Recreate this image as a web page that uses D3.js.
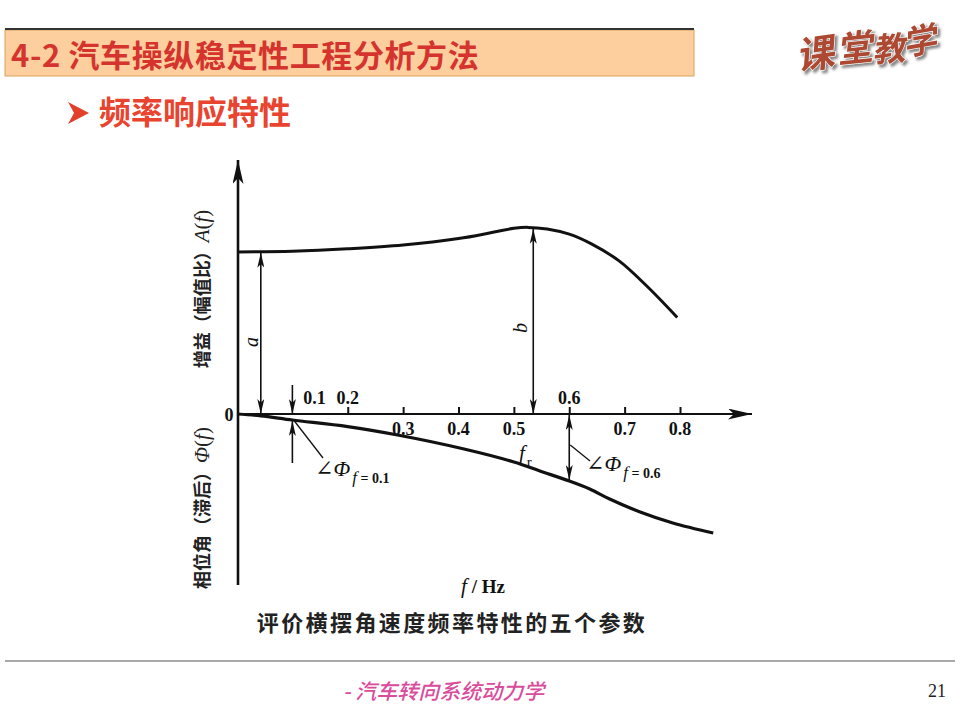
<!DOCTYPE html>
<html>
<head>
<meta charset="utf-8">
<script src="https://cdn.jsdelivr.net/npm/d3@7"></script>
<style>
  html, body { margin: 0; padding: 0; background: #fff; }
  svg { display: block; }
  .cjk { font-family: "Noto Sans CJK SC", "Noto Sans", sans-serif; }
  .serif { font-family: "Liberation Serif", "DejaVu Serif", serif; }
</style>
</head>
<body>
<div id="chart"></div>
<script>
// gain (amplitude ratio) curve
const gainFreq = [0, 0.1, 0.2, 0.3, 0.4, 0.46, 0.5, 0.525, 0.56, 0.6, 0.64, 0.69, 0.74, 0.795];
const gainValues = [1.0, 1.005, 1.02, 1.043, 1.083, 1.12, 1.146, 1.152, 1.142, 1.11, 1.05, 0.945, 0.79, 0.596];

// phase lag curve (degrees, estimated)
const phaseFreq = [0, 0.043, 0.1, 0.2, 0.29, 0.41, 0.5, 0.547, 0.6, 0.637, 0.673, 0.728, 0.787, 0.86];
const phaseValues = [0, -0.9, -3, -6.3, -10.5, -17.5, -24, -28.5, -33.5, -37.5, -42.5, -49, -54.5, -59.5];

const tickValues = [0.2, 0.3, 0.4, 0.5, 0.6, 0.7, 0.8];
const labelsAbove = [0.1, 0.2, 0.6];
const labelsBelow = [0.3, 0.4, 0.5, 0.7, 0.8];
const resonanceFreq = 0.535;
const lowFreq = 0.043;
const phaseMarks = [0.1, 0.6];

const width = 956, height = 717;
const svg = d3.select("#chart").append("svg")
  .attr("width", width).attr("height", height);

const defs = svg.append("defs");
function marker(id, w, l) {
  defs.append("marker")
    .attr("id", id)
    .attr("viewBox", `0 ${-w} ${l} ${2 * w}`)
    .attr("refX", l).attr("refY", 0)
    .attr("markerUnits", "userSpaceOnUse")
    .attr("markerWidth", l).attr("markerHeight", 2 * w)
    .attr("orient", "auto-start-reverse")
    .append("path")
    .attr("d", `M0,${-w}L${l},0L0,${w}L${l * 0.25},0Z`)
    .attr("fill", "#111");
}
marker("axisHead", 5.5, 24);
marker("head", 3.5, 15);

const shadow = defs.append("filter").attr("id", "shadow")
  .attr("x", "-20%").attr("y", "-20%").attr("width", "150%").attr("height", "150%");
shadow.append("feDropShadow").attr("dx", 2.5).attr("dy", 2.5)
  .attr("stdDeviation", 0.8).attr("flood-color", "#888");

// ---- slide header ----
svg.append("rect").attr("x", 5).attr("y", 30).attr("width", 689).attr("height", 46)
  .attr("fill", "#fdcf9e").attr("stroke", "#d9a35a").attr("stroke-width", 1);
svg.append("line").attr("x1", 5).attr("x2", 694).attr("y1", 29).attr("y2", 29)
  .attr("stroke", "#333").attr("stroke-width", 2);
svg.append("text").attr("class", "cjk").attr("x", 11).attr("y", 67)
  .attr("font-size", 31).attr("font-weight", 700).attr("fill", "#d5342e")
  .attr("letter-spacing", 0.6)
  .text("4-2 汽车操纵稳定性工程分析方法");

const logo = svg.append("g").attr("filter", "url(#shadow)");
const logoChars = [["课", 798, 70, 38, -8], ["堂", 838, 63, 36, -6], ["教", 873, 62, 33, -4], ["学", 905, 56, 34, -10]];
logoChars.forEach(([c, x, y, s, r]) => {
  logo.append("text").attr("class", "cjk")
    .attr("transform", `translate(${x},${y}) rotate(${r}) skewX(-12)`)
    .attr("font-size", s).attr("font-weight", 700)
    .attr("fill", "#ad4a30").attr("stroke", "#fff").attr("stroke-width", 1.2)
    .attr("paint-order", "stroke").text(c);
});

svg.append("path").attr("d", "M68,102 L89,113 L68,124 L74,113 Z").attr("fill", "#e0402c");
svg.append("text").attr("class", "cjk").attr("x", 99).attr("y", 124)
  .attr("font-size", 32).attr("font-weight", 700).attr("fill", "#e8442f")
  .text("频率响应特性");

// ---- chart ----
const x = d3.scaleLinear().domain([0, 0.8]).range([237, 680]);
const yGain = d3.scaleLinear().domain([0, 1]).range([414, 252]);
const yPhase = d3.scaleLinear().domain([0, -60]).range([414, 534]);
const y0 = yGain(0);
const axisX = 238;

const g = svg.append("g");

// axes
g.append("line").attr("x1", axisX).attr("y1", 585).attr("x2", axisX).attr("y2", 160)
  .attr("stroke", "#111").attr("stroke-width", 2.6).attr("marker-end", "url(#axisHead)");
g.append("line").attr("x1", axisX).attr("y1", y0).attr("x2", 752).attr("y2", y0)
  .attr("stroke", "#111").attr("stroke-width", 2.2).attr("marker-end", "url(#axisHead)");

const xAxis = g.append("g").attr("transform", `translate(0,${y0})`)
  .call(d3.axisTop(x).tickValues(tickValues).tickSize(7).tickFormat(""));
xAxis.select(".domain").remove();
xAxis.selectAll(".tick line").attr("stroke", "#111").attr("stroke-width", 2);

g.selectAll(".lab-above").data(labelsAbove).join("text")
  .attr("class", "serif lab-above")
  .attr("x", d => x(d) + (d === 0.1 ? 22 : 0)).attr("y", y0 - 10)
  .attr("text-anchor", "middle").attr("font-size", 18).attr("font-weight", 700)
  .attr("fill", "#111").text(d => d3.format(".1f")(d));
g.selectAll(".lab-below").data(labelsBelow).join("text")
  .attr("class", "serif lab-below")
  .attr("x", d => x(d)).attr("y", y0 + 21)
  .attr("text-anchor", "middle").attr("font-size", 18).attr("font-weight", 700)
  .attr("fill", "#111").text(d => d3.format(".1f")(d));
g.append("text").attr("class", "serif").attr("x", 229).attr("y", 421)
  .attr("text-anchor", "middle").attr("font-size", 18).attr("font-weight", 700)
  .attr("fill", "#111").text("0");

// curves
const gainLine = d3.line().x(d => x(d[0])).y(d => yGain(d[1])).curve(d3.curveCatmullRom.alpha(0.5));
const phaseLine = d3.line().x(d => x(d[0])).y(d => yPhase(d[1])).curve(d3.curveCatmullRom.alpha(0.5));
g.append("path").datum(d3.zip(gainFreq, gainValues))
  .attr("d", gainLine).attr("fill", "none").attr("stroke", "#111").attr("stroke-width", 3);
g.append("path").datum(d3.zip(phaseFreq, phaseValues))
  .attr("d", phaseLine).attr("fill", "none").attr("stroke", "#111").attr("stroke-width", 3.2);

const gainAt = f => d3.scaleLinear().domain(gainFreq).range(gainValues)(f);
const phaseAt = f => d3.scaleLinear().domain(phaseFreq).range(phaseValues)(f);

function arrow(x1, y1, x2, y2, both) {
  const l = g.append("line").attr("x1", x1).attr("y1", y1).attr("x2", x2).attr("y2", y2)
    .attr("stroke", "#111").attr("stroke-width", 1.6).attr("marker-end", "url(#head)");
  if (both) l.attr("marker-start", "url(#head)");
}

// a and b
arrow(x(lowFreq), yGain(gainAt(lowFreq)) + 1, x(lowFreq), y0, true);
arrow(x(resonanceFreq), yGain(gainAt(resonanceFreq)) + 1, x(resonanceFreq), y0, true);
g.append("text").attr("class", "serif")
  .attr("transform", `translate(${x(lowFreq) - 3},${342}) rotate(-90)`)
  .attr("text-anchor", "middle").attr("font-size", 20).attr("font-style", "italic")
  .attr("fill", "#111").text("a");
g.append("text").attr("class", "serif")
  .attr("transform", `translate(${x(resonanceFreq) - 6},${328}) rotate(-90)`)
  .attr("text-anchor", "middle").attr("font-size", 20).attr("font-style", "italic")
  .attr("fill", "#111").text("b");

// phase at f = 0.1
const p1 = x(phaseMarks[0]);
arrow(p1, 385, p1, y0, false);
arrow(p1, 463, p1, yPhase(phaseAt(phaseMarks[0])) + 1, false);
g.append("line").attr("x1", p1 + 2).attr("y1", 421).attr("x2", 323).attr("y2", 458)
  .attr("stroke", "#111").attr("stroke-width", 1.3);

// phase at f = 0.6
const p2 = x(phaseMarks[1]);
arrow(p2, y0 + 1, p2, yPhase(phaseAt(phaseMarks[1])) - 1, true);
g.append("line").attr("x1", p2 + 1).attr("y1", 445).attr("x2", 590).attr("y2", 461)
  .attr("stroke", "#111").attr("stroke-width", 1.3);

function phiLabel(lx, ly, val) {
  const t = g.append("text").attr("class", "serif").attr("x", lx).attr("y", ly)
    .attr("fill", "#111").attr("font-size", 22);
  t.append("tspan").text("∠");
  t.append("tspan").attr("font-style", "italic").text("Φ");
  t.append("tspan").attr("dy", 7).attr("dx", 2).attr("font-size", 17)
    .attr("font-style", "italic").text("f");
  t.append("tspan").attr("font-size", 14).attr("font-weight", 700).text(" = " + val);
}
phiLabel(315, 476, "0.1");
phiLabel(586, 471, "0.6");

const fr = g.append("text").attr("class", "serif").attr("x", 519).attr("y", 460)
  .attr("fill", "#111").attr("font-size", 21).attr("font-style", "italic");
fr.append("tspan").text("f");
fr.append("tspan").attr("dy", 7).attr("dx", 2).attr("font-size", 15)
  .attr("font-style", "normal").text("r");

// axis titles
function axisTitle(cx, cy, cn, sym) {
  const t = g.append("text").attr("transform", `translate(${cx},${cy}) rotate(-90)`)
    .attr("text-anchor", "middle").attr("fill", "#222").attr("font-size", 18);
  t.append("tspan").attr("class", "cjk").attr("font-weight", 700).text(cn);
  t.append("tspan").attr("class", "serif").attr("font-style", "italic").attr("font-size", 21).text(sym);
  t.append("tspan").attr("class", "serif").attr("font-size", 21).text("(");
  t.append("tspan").attr("class", "serif").attr("font-style", "italic").attr("font-size", 21).text("f");
  t.append("tspan").attr("class", "serif").attr("font-size", 21).text(")");
}
axisTitle(209, 289, "增益（幅值比）", "A");
axisTitle(209, 508, "相位角（滞后）", "Φ");

const xt = g.append("text").attr("class", "serif").attr("x", 483).attr("y", 593)
  .attr("text-anchor", "middle").attr("fill", "#111").attr("font-size", 19).attr("font-weight", 700);
xt.append("tspan").attr("font-style", "italic").attr("font-weight", 400).attr("font-size", 21).text("f");
xt.append("tspan").text(" / Hz");

svg.append("text").attr("class", "cjk").attr("x", 452).attr("y", 631)
  .attr("text-anchor", "middle").attr("font-size", 22).attr("font-weight", 700)
  .attr("letter-spacing", 2.4).attr("fill", "#222")
  .text("评价横摆角速度频率特性的五个参数");

// ---- footer ----
svg.append("line").attr("x1", 5).attr("x2", 955).attr("y1", 661).attr("y2", 661)
  .attr("stroke", "#8c8c8c").attr("stroke-width", 1.5);
svg.append("text").attr("class", "cjk").attr("x", 343).attr("y", 699)
  .attr("font-size", 21).attr("font-style", "italic").attr("font-weight", 500).attr("fill", "#d94c9c")
  .text("- 汽车转向系统动力学");
svg.append("text").attr("class", "serif").attr("x", 946).attr("y", 697)
  .attr("text-anchor", "end").attr("font-size", 18).attr("fill", "#222").text("21");
</script>
</body>
</html>
